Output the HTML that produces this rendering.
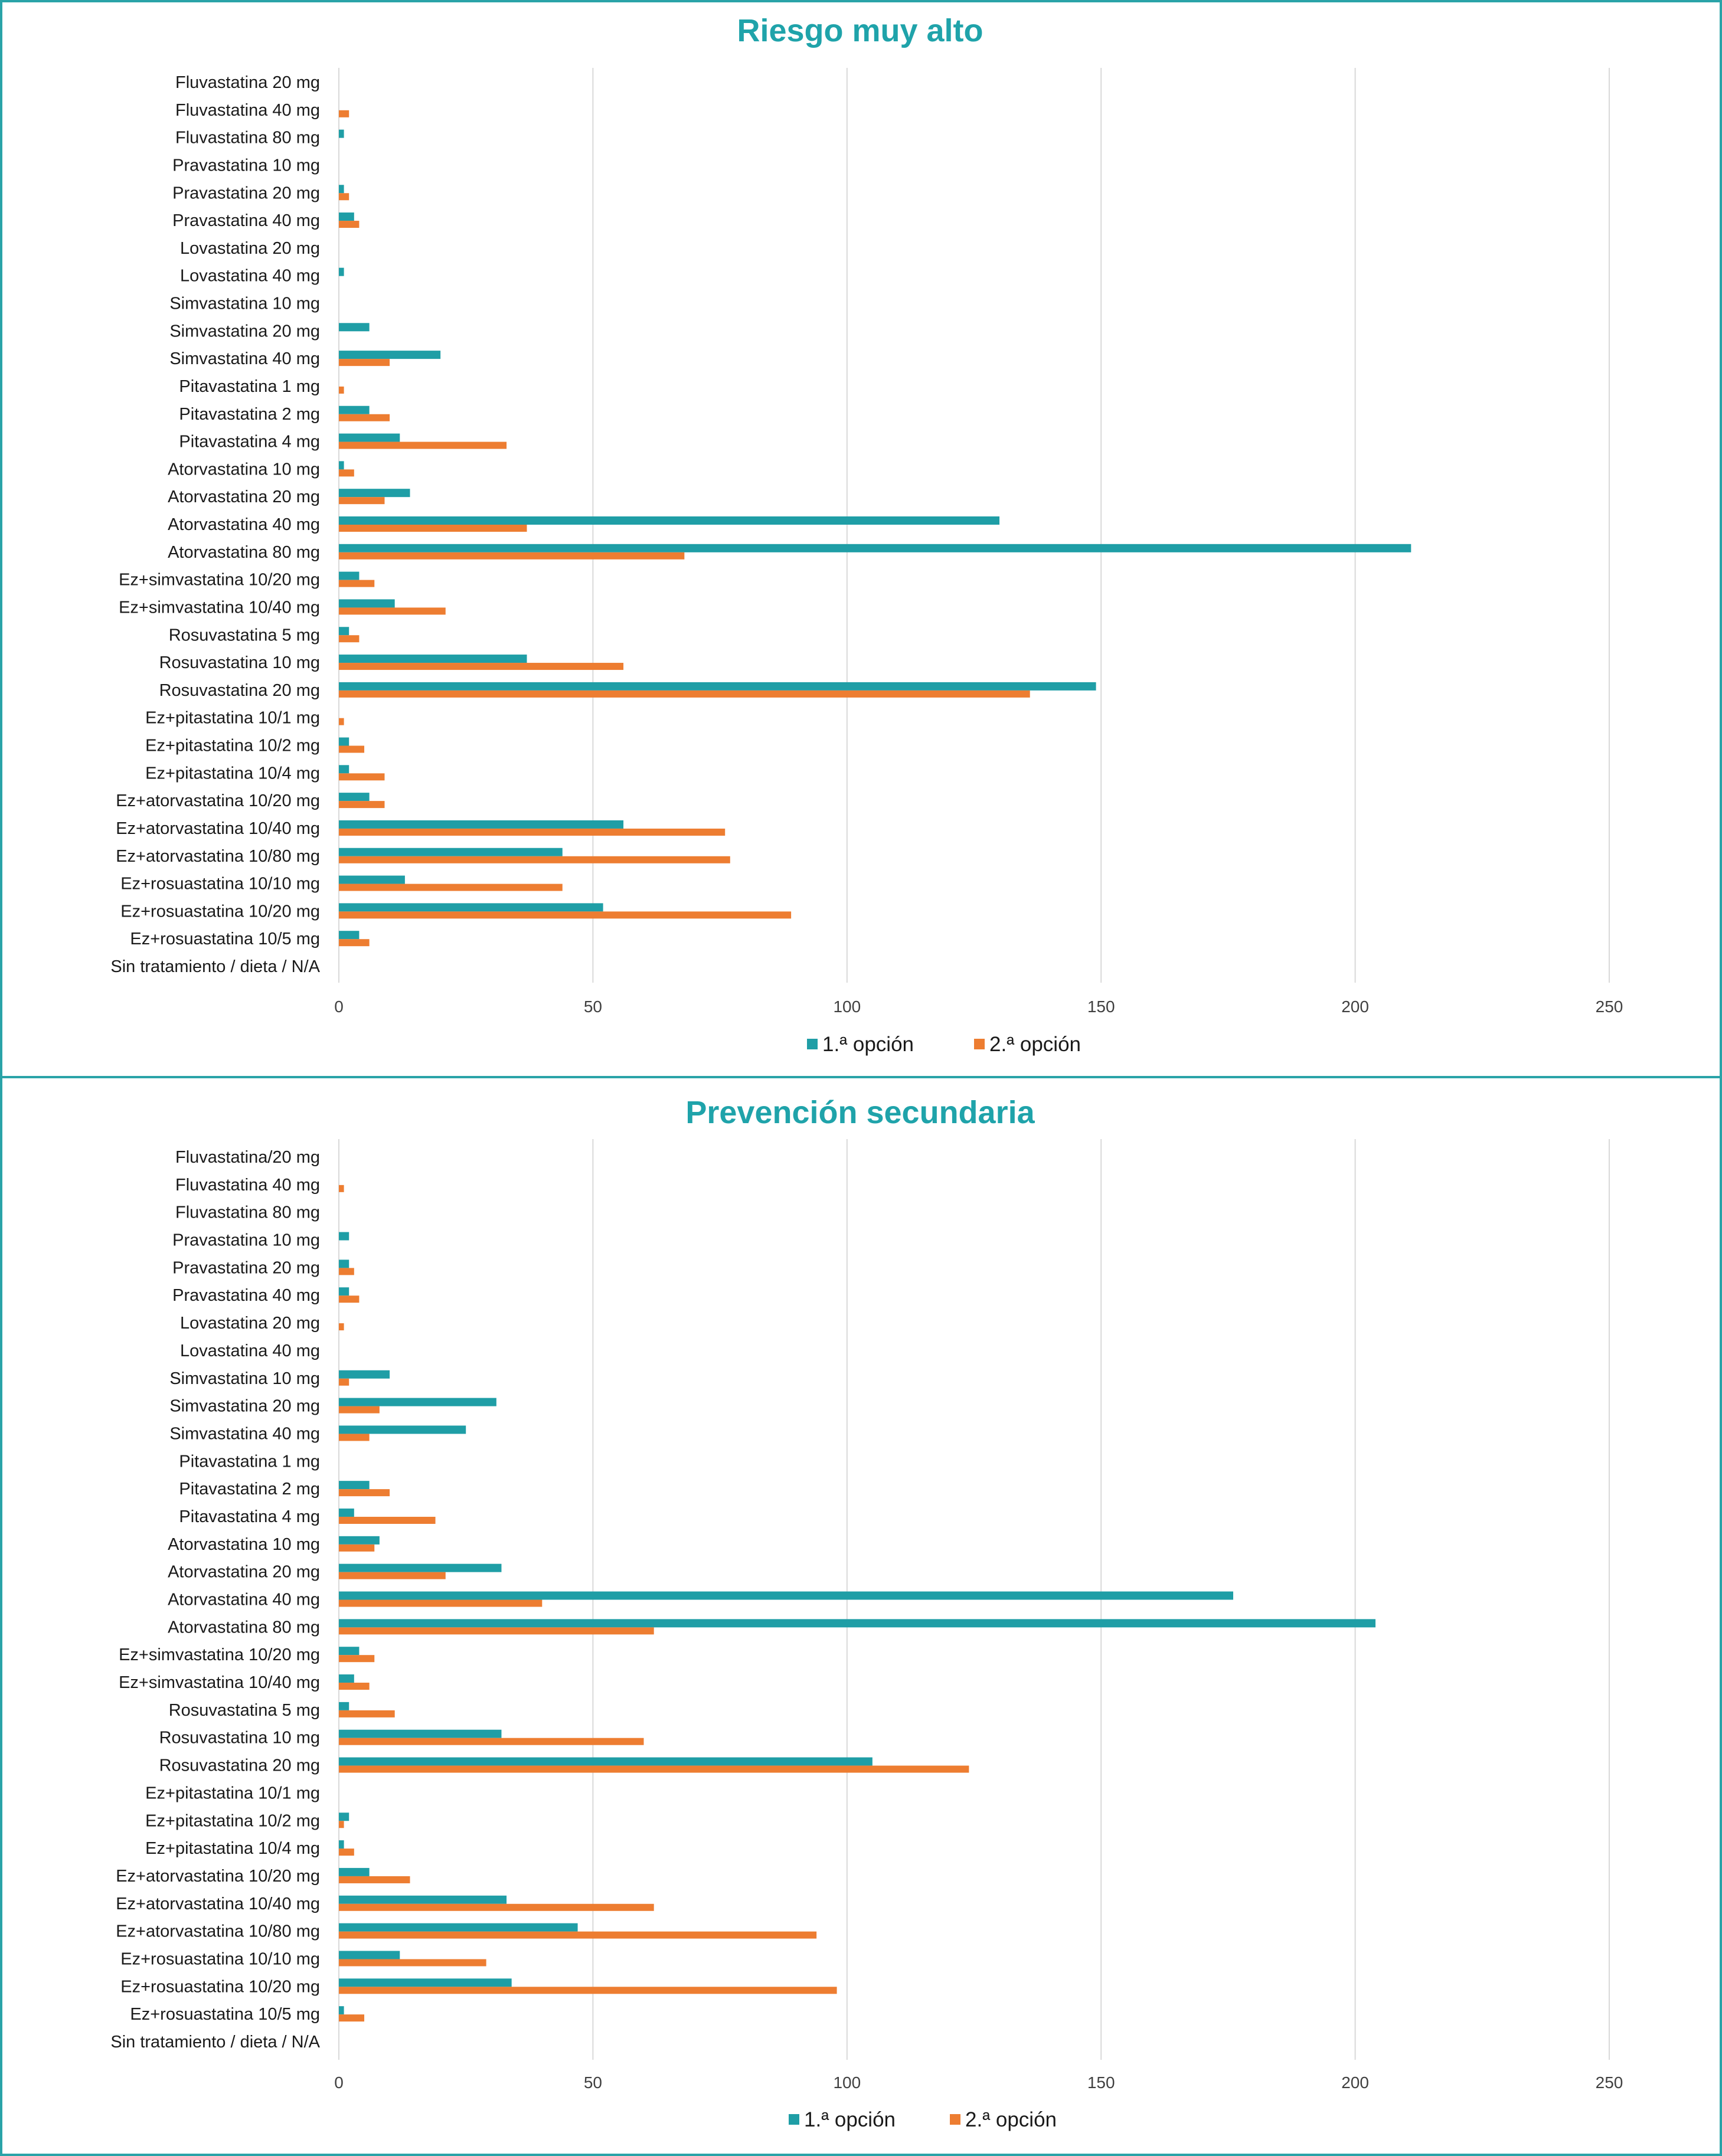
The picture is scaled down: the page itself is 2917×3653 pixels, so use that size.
<!DOCTYPE html>
<html><head><meta charset="utf-8"><style>
html,body{margin:0;padding:0;background:#fff}
svg{display:block}
text{font-family:"Liberation Sans",sans-serif}
</style></head><body>
<svg id="c" width="2917" height="3653" xmlns="http://www.w3.org/2000/svg">
<rect x="2" y="2" width="2913" height="1823" fill="none" stroke="#2aa3a8" stroke-width="4"/>
<rect x="2" y="1825" width="2913" height="1826" fill="none" stroke="#2aa3a8" stroke-width="4"/>
</svg>
<script>
const ticks=[0,50,100,150,200,250];
const catsTop=["Fluvastatina 20 mg","Fluvastatina 40 mg","Fluvastatina 80 mg","Pravastatina 10 mg","Pravastatina 20 mg","Pravastatina 40 mg","Lovastatina 20 mg","Lovastatina 40 mg","Simvastatina 10 mg","Simvastatina 20 mg","Simvastatina 40 mg","Pitavastatina 1 mg","Pitavastatina 2 mg","Pitavastatina 4 mg","Atorvastatina 10 mg","Atorvastatina 20 mg","Atorvastatina 40 mg","Atorvastatina 80 mg","Ez+simvastatina 10/20 mg","Ez+simvastatina 10/40 mg","Rosuvastatina 5 mg","Rosuvastatina 10 mg","Rosuvastatina 20 mg","Ez+pitastatina 10/1 mg","Ez+pitastatina 10/2 mg","Ez+pitastatina 10/4 mg","Ez+atorvastatina 10/20 mg","Ez+atorvastatina 10/40 mg","Ez+atorvastatina 10/80 mg","Ez+rosuastatina 10/10 mg","Ez+rosuastatina 10/20 mg","Ez+rosuastatina 10/5 mg","Sin tratamiento / dieta / N/A"];
const catsBottom=["Fluvastatina/20 mg"].concat(catsTop.slice(1));
const topFirst=[0,0,1,0,1,3,0,1,0,6,20,0,6,12,1,14,130,211,4,11,2,37,149,0,2,2,6,56,44,13,52,4,0];
const topSecond=[0,2,0,0,2,4,0,0,0,0,10,1,10,33,3,9,37,68,7,21,4,56,136,1,5,9,9,76,77,44,89,6,0];
const botFirst=[0,0,0,2,2,2,0,0,10,31,25,0,6,3,8,32,176,204,4,3,2,32,105,0,2,1,6,33,47,12,34,1,0];
const botSecond=[0,1,0,0,3,4,1,0,2,8,6,0,10,19,7,21,40,62,7,6,11,60,124,0,1,3,14,62,94,29,98,5,0];
const svg=document.getElementById('c');
const NS="http://www.w3.org/2000/svg";
const TEAL="#1f9ea6",ORANGE="#ed7d31";
const x0=574,xMax=2726,vMax=250;
const xs=v=>x0+v/vMax*(xMax-x0);
function mk(tag,attrs,parent){const e=document.createElementNS(NS,tag);for(const k in attrs)e.setAttribute(k,attrs[k]);(parent||svg).appendChild(e);return e;}
function panel(prefix,title,titleY,cats,s1,s2,y1,yLast,gridTop,gridBot,tickY,legY,legX){
  const g=mk('g',{});
  
  
  const t=mk('text',{x:1457,y:titleY,'text-anchor':'middle','font-size':54,'font-weight':'bold',fill:'#1fa3aa'},g);
  t.textContent=title;
  
  
  const step=(yLast-y1)/(cats.length-1);
  const ys=i=>y1+i*step;
  ticks.forEach(v=>{
    const l=mk('line',{x1:xs(v),x2:xs(v),y1:gridTop,y2:gridBot,stroke:'#d9d9d9','stroke-width':2},g);
    
    
    const tt=mk('text',{x:xs(v),y:tickY+10,'text-anchor':'middle','font-size':28,fill:'#404040'},g);
    tt.textContent=v;
    
    
  });
  cats.forEach((c,i)=>{
    const cy=ys(i);
    const lb=mk('text',{x:542,y:cy+10,'text-anchor':'end','font-size':29,fill:'#1a1a1a'},g);
    lb.textContent=c;
    
    
    const b1=mk('rect',{x:x0,y:cy-13,width:Math.max(0,xs(s1[i])-x0),height:14,fill:TEAL},g);
    
    
    const b2=mk('rect',{x:x0,y:cy+1,width:Math.max(0,xs(s2[i])-x0),height:12,fill:ORANGE},g);
    
    
  });
  const items=[[TEAL,'1.ª opción'],[ORANGE,'2.ª opción']];
  items.forEach((it,k)=>{
    const lx=legX[k];
    const sq=mk('rect',{x:lx,y:legY-10,width:18,height:18,fill:it[0]},g);
    
    
    const lt=mk('text',{x:lx+26,y:legY+11,'font-size':35,fill:'#1a1a1a'},g);
    lt.textContent=it[1];
    
    
  });
}
panel('top','Riesgo muy alto',70,catsTop,topFirst,topSecond,139,1637,115,1665,1705,1770,[1367,1650]);
panel('bottom','Prevención secundaria',1903,catsBottom,botFirst,botSecond,1960,3459,1930,3490,3528,3592,[1336,1609]);
</script>
</body></html>
